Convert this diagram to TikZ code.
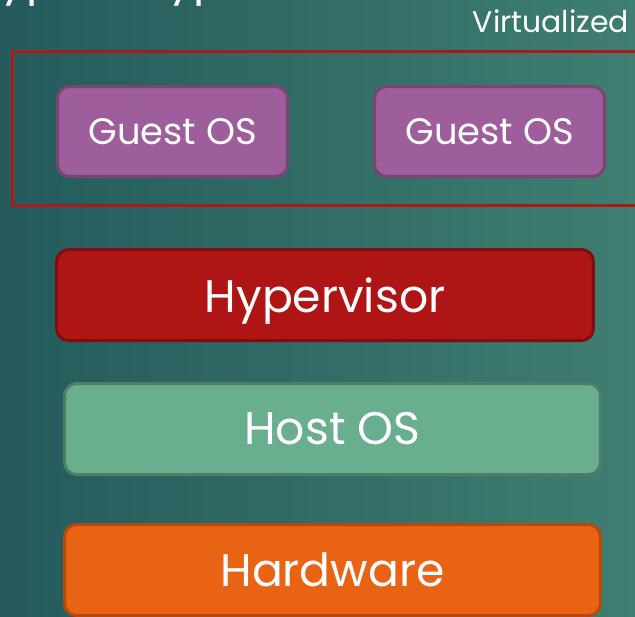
\documentclass[tikz,border=0pt]{standalone}
\usepackage{fontspec}
\setmainfont{Poppins}
\usepackage{xcolor}
\usepackage{tikz}
\usetikzlibrary{positioning}

\definecolor{bgdark}{HTML}{245A5C}
\definecolor{bglight}{HTML}{3F7E71}
\definecolor{framered}{HTML}{B01818}
\definecolor{guestfill}{HTML}{9E5E9B}
\definecolor{guestline}{HTML}{774673}
\definecolor{hypfill}{HTML}{B01515}
\definecolor{hypline}{HTML}{800E0E}
\definecolor{hostfill}{HTML}{6AAE90}
\definecolor{hostline}{HTML}{4D7F66}
\definecolor{hwfill}{HTML}{E96314}
\definecolor{hwline}{HTML}{B54A0F}

\tikzset{
  layer/.style={rounded corners=0.24cm, line width=0.06cm, text=white,
    minimum width=10.74cm, minimum height=1.82cm, font=\fontsize{26}{26}\selectfont},
  guest/.style={layer, fill=guestfill, draw=guestline,
    minimum width=4.6cm, minimum height=1.8cm, font=\fontsize{21}{21}\selectfont},
}

\begin{document}
\begin{tikzpicture}[x=0.02cm, y=-0.02cm]
    \useasboundingbox (0,0) rectangle (635,616);
    \clip (0,0) rectangle (635,616);

    % Background
    \shade[left color=bgdark, right color=bglight] (0,0) rectangle (635,616);

    % Title (cut off at the top)
    \node[anchor=base west, text=white, font=\fontsize{26}{26}\selectfont] (title) at (-30,-6) {Type 2 Hypervisor};
    \node[anchor=base east, text=white, font=\fontsize{17}{17}\selectfont] (virt) at (635,32) {Virtualized};

    % Virtualized guests
    \node[draw=framered, line width=0.06cm, minimum width=12.96cm, minimum height=3.08cm] (vmframe) at (336,128.5) {};
    \node[guest] (guest1) at (172.5,131.5) {Guest OS};
    \node[guest] (guest2) at (489.5,131.5) {Guest OS};

    % Layers
    \node[layer, fill=hypfill, draw=hypline] (hyp) at (325,295) {\raisebox{-0.12cm}[\height][\depth]{Hypervisor}};
    \node[layer, fill=hostfill, draw=hostline, minimum width=10.72cm] (host) at (332.5,429) {Host OS};
    \node[layer, fill=hwfill, draw=hwline, minimum width=10.72cm] (hw) at (332.5,570) {Hardware};
\end{tikzpicture}
\end{document}
